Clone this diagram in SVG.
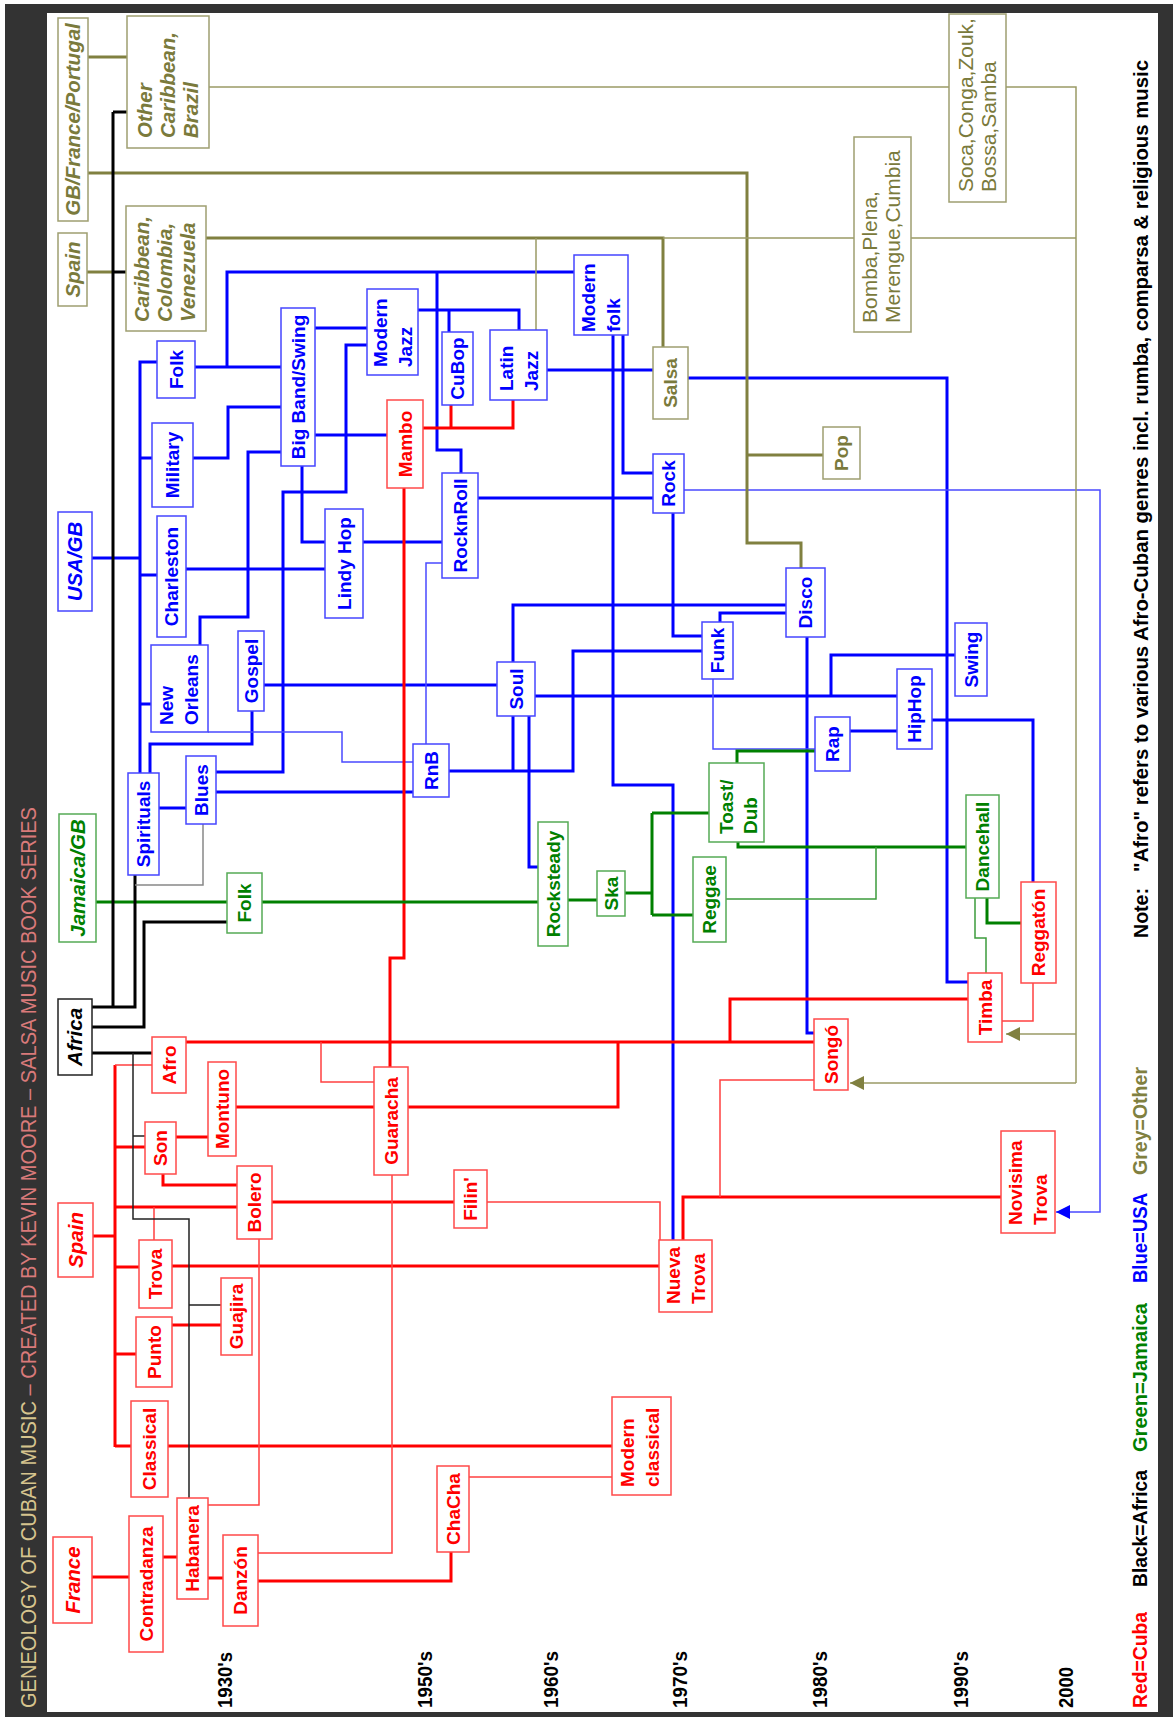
<svg xmlns="http://www.w3.org/2000/svg" width="1173" height="1717" viewBox="0 0 1173 1717">
<defs>
<marker id="ao" markerUnits="userSpaceOnUse" markerWidth="14" markerHeight="14" refX="14" refY="7" orient="auto" viewBox="0 0 14 14"><path d="M0,0L14,7L0,14z" fill="#808040"/></marker>
<marker id="ab" markerUnits="userSpaceOnUse" markerWidth="14" markerHeight="14" refX="14" refY="7" orient="auto" viewBox="0 0 14 14"><path d="M0,0L14,7L0,14z" fill="#0000ff"/></marker>
</defs>
<style>
text{font-family:"Liberation Sans",Arial,sans-serif;font-weight:bold;font-size:19px;text-anchor:middle}
.it{font-style:italic;font-size:20.5px}
.ml{text-anchor:start}
.rg{font-weight:normal;font-size:21px}
.node rect{fill:#fff;stroke-width:1.5}
.nr text{fill:#f00}.nr rect{stroke:#ff4a4a}
.nb text{fill:#0000ff}.nb rect{stroke:#4646ff}
.ng text{fill:#008000}.ng rect{stroke:#55aa55}
.no text{fill:#7a7a3c}.no rect{stroke:#9e9e70}
.nk text{fill:#000}.nk rect{stroke:#222}
#connectors path{fill:none}
.bt{stroke:#0000ff;stroke-width:3}
.bn{stroke:#4a4aff;stroke-width:1.5}
.rt{stroke:#ff0000;stroke-width:3}
.rn{stroke:#ff4040;stroke-width:1.5}
.gt{stroke:#008000;stroke-width:3}
.gn{stroke:#3c9c3c;stroke-width:1.5}
.ot{stroke:#808040;stroke-width:3}
.on{stroke:#9a9a66;stroke-width:1.5}
.kt{stroke:#000;stroke-width:3}
.kn{stroke:#222;stroke-width:1.5}
.gr{stroke:#888;stroke-width:1.5}
.yr{fill:#000;font-size:20px;text-anchor:start}
.lg{font-size:20px;text-anchor:start}
</style>
<rect x="0" y="0" width="1173" height="1717" fill="#fff"/>
<rect x="5" y="4" width="1168" height="1713" fill="#333"/>
<rect x="47" y="13" width="1111" height="1699" fill="#fff"/>
<text transform="translate(36,1708) rotate(-90)" style="font-weight:normal;font-size:22px;text-anchor:start" textLength="901" lengthAdjust="spacingAndGlyphs"><tspan fill="#d6c48e">GENEOLOGY OF CUBAN MUSIC</tspan><tspan fill="#d97a7a"> – CREATED BY KEVIN MOORE – SALSA MUSIC BOOK SERIES</tspan></text>

<g id="connectors">
<path class="bt" d="M157,362H140V773M92,558H140M140,458H152M140,575H157M140,704H151M195,367H281M227,367V272H574M437,272V450H461V473M193,458H228V407H281M315,328H367M367,345H346V492H283V772H216M315,435H387M302,466V542H325M186,569H325M200,645V617H248V452H281M264,685H497M150,773V744H252V711M216,792H413M159,808H186M363,542H442M478,498H653M623,335V473H653M613,335V785H673V1240M673,513V636H702M449,771H573V651H702M513,716V771M529,716V867H538M513,662V605H786M720,622V613H786M535,696H897M831,696V655H955M850,731H897M932,720H1033V882M807,637V1033H814M688,378H947V982H968M547,370H653M418,310H519V330M449,310V332"/>
<path class="bn" d="M208,732H342V762H413M426,744V563H442M713,679V749H815"/>
<path class="bn" d="M684,490H1100V1212H1056" marker-end="url(#ab)"/>
<path class="rt" d="M423,428H513V400M451,405V428M404,488V958H390V1067M186,1042H814M408,1107H618V1042M730,1042V999H968M93,1236H115M115,1065V1447M115,1147H145M115,1207H237M115,1267H139M115,1354H136M115,1446H131M176,1137H208M236,1107H374M163,1174V1185H237M172,1266H659M272,1202H454M683,1240V1197H1001M172,1325H221M168,1446H612M258,1581H451V1552M92,1577H129M163,1557H177M208,1578H223"/>
<path class="rn" d="M115,1065H152M321,1042V1082H374M154,1207V1240M487,1202H660V1240M720,1197V1080H814M1033,983V1021H1002M208,1505H259V1239M469,1477H612M258,1553H392V1175"/>
<path class="gt" d="M96,902H227M262,902H538M568,900H597M625,893H652M652,813V915M652,813H709M652,915H693M737,763V751H815M738,842V847H966M987,898V923H1021"/>
<path class="gn" d="M726,899H876V847M975,898V938H986V973"/>
<path class="ot" d="M88,57H127M87,272H113M88,173H747V543H801V568M747,455H823M206,238H663V347"/>
<path class="on" d="M209,87H949M1006,87H1076V1083M663,238H854M911,238H1076M536,238V330"/>
<path class="on" d="M1076,1034H1006" marker-end="url(#ao)"/>
<path class="on" d="M1076,1083H850" marker-end="url(#ao)"/>
<path class="kt" d="M113,112V1007M113,112H127M113,272H126M92,1007H135V875M92,1027H144V922H227M92,1053H152"/>
<path class="kn" d="M133,1053V1219H189V1498M133,1136H145M189,1305H221"/>
<path class="gr" d="M203,824V885H135"/>
</g>

<g id="nodes">
<!-- Olive / other -->
<g id="n-gbfp" class="node no"><rect x="58" y="18" width="30" height="203"/><text class="it" transform="translate(73,119.5) rotate(-90)" y="7.4">GB/France/Portugal</text></g>
<g id="n-spain-o" class="node no"><rect x="58" y="233" width="29" height="73"/><text class="it" transform="translate(72.5,269.5) rotate(-90)" y="7.4">Spain</text></g>
<g id="n-othercarib" class="node no"><rect x="127" y="16" width="82" height="132"/><text class="it ml" transform="translate(168,138) rotate(-90)"><tspan x="0" y="-16.5">Other</tspan><tspan x="0" y="6.5">Caribbean,</tspan><tspan x="0" y="29.5">Brazil</tspan></text></g>
<g id="n-caribcol" class="node no"><rect x="126" y="206" width="80" height="125"/><text class="it ml" transform="translate(166,322) rotate(-90)"><tspan x="0" y="-17.5">Caribbean,</tspan><tspan x="0" y="5.5">Colombia,</tspan><tspan x="0" y="28.5">Venezuela</tspan></text></g>
<g id="n-bomba" class="node no"><rect x="854" y="137" width="57" height="195"/><text class="rg ml" transform="translate(882.5,323) rotate(-90)"><tspan x="0" y="-6">Bomba,Plena,</tspan><tspan x="0" y="17">Merengue,Cumbia</tspan></text></g>
<g id="n-soca" class="node no"><rect x="949" y="14" width="57" height="188"/><text class="rg ml" transform="translate(977.5,192) rotate(-90)"><tspan x="0" y="-5">Soca,Conga,Zouk,</tspan><tspan x="0" y="18">Bossa,Samba</tspan></text></g>
<g id="n-salsa" class="node no"><rect x="653" y="347" width="35" height="72"/><text transform="translate(670.5,383) rotate(-90)" y="6.8">Salsa</text></g>
<g id="n-pop" class="node no"><rect x="823" y="427" width="37" height="52"/><text transform="translate(841.5,453) rotate(-90)" y="6.8">Pop</text></g>

<!-- Blue / USA -->
<g id="n-usagb" class="node nb"><rect x="58" y="512" width="34" height="99"/><text class="it" transform="translate(75,561.5) rotate(-90)" y="7.4">USA/GB</text></g>
<g id="n-folk-usa" class="node nb"><rect x="157" y="341" width="38" height="57"/><text transform="translate(176,369.5) rotate(-90)" y="6.8">Folk</text></g>
<g id="n-military" class="node nb"><rect x="152" y="423" width="41" height="84"/><text transform="translate(172.5,465) rotate(-90)" y="6.8">Military</text></g>
<g id="n-bigband" class="node nb"><rect x="281" y="308" width="34" height="158"/><text transform="translate(298,387) rotate(-90)" y="6.8">Big Band/Swing</text></g>
<g id="n-modernjazz" class="node nb"><rect x="367" y="289" width="51" height="86"/><text class="ml" transform="translate(392.5,367) rotate(-90)"><tspan x="0" y="-6">Modern</tspan><tspan x="0" y="19">Jazz</tspan></text></g>
<g id="n-cubop" class="node nb"><rect x="442" y="332" width="31" height="73"/><text transform="translate(457.5,368.5) rotate(-90)" y="6.8">CuBop</text></g>
<g id="n-latinjazz" class="node nb"><rect x="490" y="330" width="57" height="70"/><text class="ml" transform="translate(518.5,391) rotate(-90)"><tspan x="0" y="-6">Latin</tspan><tspan x="0" y="19">Jazz</tspan></text></g>
<g id="n-modernfolk" class="node nb"><rect x="574" y="255" width="54" height="80"/><text class="ml" transform="translate(601,332) rotate(-90)"><tspan x="0" y="-6">Modern</tspan><tspan x="0" y="19">folk</tspan></text></g>
<g id="n-charleston" class="node nb"><rect x="157" y="516" width="29" height="121"/><text transform="translate(171.5,576.5) rotate(-90)" y="6.8">Charleston</text></g>
<g id="n-lindyhop" class="node nb"><rect x="325" y="509" width="38" height="109"/><text transform="translate(344,563.5) rotate(-90)" y="6.8">Lindy Hop</text></g>
<g id="n-neworleans" class="node nb"><rect x="151" y="645" width="57" height="87"/><text class="ml" transform="translate(179.5,725) rotate(-90)"><tspan x="0" y="-7">New</tspan><tspan x="0" y="18">Orleans</tspan></text></g>
<g id="n-gospel" class="node nb"><rect x="238" y="631" width="26" height="80"/><text transform="translate(251,671) rotate(-90)" y="6.8">Gospel</text></g>
<g id="n-spirituals" class="node nb"><rect x="128" y="773" width="31" height="102"/><text transform="translate(143.5,824) rotate(-90)" y="6.8">Spirituals</text></g>
<g id="n-blues" class="node nb"><rect x="186" y="756" width="30" height="68"/><text transform="translate(201,790) rotate(-90)" y="6.8">Blues</text></g>
<g id="n-rnb" class="node nb"><rect x="413" y="744" width="36" height="53"/><text transform="translate(431,770.5) rotate(-90)" y="6.8">RnB</text></g>
<g id="n-rocknroll" class="node nb"><rect x="442" y="473" width="36" height="105"/><text transform="translate(460,525.5) rotate(-90)" y="6.8">RocknRoll</text></g>
<g id="n-soul" class="node nb"><rect x="497" y="662" width="38" height="54"/><text transform="translate(516,689) rotate(-90)" y="6.8">Soul</text></g>
<g id="n-rock" class="node nb"><rect x="653" y="454" width="31" height="59"/><text transform="translate(668.5,483.5) rotate(-90)" y="6.8">Rock</text></g>
<g id="n-funk" class="node nb"><rect x="702" y="622" width="31" height="57"/><text transform="translate(717.5,650.5) rotate(-90)" y="6.8">Funk</text></g>
<g id="n-disco" class="node nb"><rect x="786" y="568" width="39" height="69"/><text transform="translate(805.5,602.5) rotate(-90)" y="6.8">Disco</text></g>
<g id="n-swing" class="node nb"><rect x="955" y="623" width="32" height="73"/><text transform="translate(971,659.5) rotate(-90)" y="6.8">Swing</text></g>
<g id="n-hiphop" class="node nb"><rect x="897" y="669" width="35" height="80"/><text transform="translate(914.5,709) rotate(-90)" y="6.8">HipHop</text></g>
<g id="n-rap" class="node nb"><rect x="815" y="717" width="35" height="54"/><text transform="translate(832.5,744) rotate(-90)" y="6.8">Rap</text></g>

<!-- Green / Jamaica -->
<g id="n-jamaicagb" class="node ng"><rect x="59" y="814" width="37" height="128"/><text class="it" transform="translate(77.5,878) rotate(-90)" y="7.4">Jamaica/GB</text></g>
<g id="n-folk-jam" class="node ng"><rect x="227" y="873" width="35" height="60"/><text transform="translate(244.5,903) rotate(-90)" y="6.8">Folk</text></g>
<g id="n-rocksteady" class="node ng"><rect x="538" y="822" width="30" height="124"/><text transform="translate(553,884) rotate(-90)" y="6.8">Rocksteady</text></g>
<g id="n-ska" class="node ng"><rect x="597" y="871" width="28" height="45"/><text transform="translate(611,893.5) rotate(-90)" y="6.8">Ska</text></g>
<g id="n-reggae" class="node ng"><rect x="693" y="857" width="33" height="85"/><text transform="translate(709.5,899.5) rotate(-90)" y="6.8">Reggae</text></g>
<g id="n-toastdub" class="node ng"><rect x="709" y="763" width="55" height="79"/><text class="ml" transform="translate(736.5,834) rotate(-90)"><tspan x="0" y="-4">Toast/</tspan><tspan x="0" y="20">Dub</tspan></text></g>
<g id="n-dancehall" class="node ng"><rect x="966" y="795" width="33" height="103"/><text transform="translate(982.5,846.5) rotate(-90)" y="6.8">Dancehall</text></g>

<!-- Black / Africa -->
<g id="n-africa" class="node nk"><rect x="58" y="999" width="34" height="76"/><text class="it" transform="translate(75,1037) rotate(-90)" y="7.4">Africa</text></g>

<!-- Red / Cuba -->
<g id="n-spain-r" class="node nr"><rect x="58" y="1203" width="35" height="74"/><text class="it" transform="translate(75.5,1240) rotate(-90)" y="7.4">Spain</text></g>
<g id="n-france" class="node nr"><rect x="53" y="1537" width="39" height="86"/><text class="it" transform="translate(72.5,1580) rotate(-90)" y="7.4">France</text></g>
<g id="n-mambo" class="node nr"><rect x="387" y="400" width="36" height="88"/><text transform="translate(405,444) rotate(-90)" y="6.8">Mambo</text></g>
<g id="n-guaracha" class="node nr"><rect x="374" y="1067" width="34" height="108"/><text transform="translate(391,1121) rotate(-90)" y="6.8">Guaracha</text></g>
<g id="n-afro" class="node nr"><rect x="152" y="1037" width="34" height="56"/><text transform="translate(169,1065) rotate(-90)" y="6.8">Afro</text></g>
<g id="n-son" class="node nr"><rect x="145" y="1122" width="31" height="52"/><text transform="translate(160.5,1148) rotate(-90)" y="6.8">Son</text></g>
<g id="n-montuno" class="node nr"><rect x="208" y="1062" width="28" height="94"/><text transform="translate(222,1109) rotate(-90)" y="6.8">Montuno</text></g>
<g id="n-bolero" class="node nr"><rect x="237" y="1166" width="35" height="73"/><text transform="translate(254.5,1202.5) rotate(-90)" y="6.8">Bolero</text></g>
<g id="n-filin" class="node nr"><rect x="454" y="1170" width="33" height="58"/><text transform="translate(470.5,1199) rotate(-90)" y="6.8">Filin'</text></g>
<g id="n-trova" class="node nr"><rect x="139" y="1240" width="33" height="68"/><text transform="translate(155.5,1274) rotate(-90)" y="6.8">Trova</text></g>
<g id="n-guajira" class="node nr"><rect x="221" y="1278" width="31" height="77"/><text transform="translate(236.5,1316.5) rotate(-90)" y="6.8">Guajira</text></g>
<g id="n-punto" class="node nr"><rect x="136" y="1317" width="36" height="70"/><text transform="translate(154,1352) rotate(-90)" y="6.8">Punto</text></g>
<g id="n-classical" class="node nr"><rect x="131" y="1401" width="37" height="96"/><text transform="translate(149.5,1449) rotate(-90)" y="6.8">Classical</text></g>
<g id="n-contradanza" class="node nr"><rect x="129" y="1516" width="34" height="136"/><text transform="translate(146,1584) rotate(-90)" y="6.8">Contradanza</text></g>
<g id="n-habanera" class="node nr"><rect x="177" y="1498" width="31" height="101"/><text transform="translate(192.5,1548.5) rotate(-90)" y="6.8">Habanera</text></g>
<g id="n-danzon" class="node nr"><rect x="223" y="1535" width="35" height="91"/><text transform="translate(240.5,1580.5) rotate(-90)" y="6.8">Danzón</text></g>
<g id="n-chacha" class="node nr"><rect x="437" y="1466" width="32" height="86"/><text transform="translate(453,1509) rotate(-90)" y="6.8">ChaCha</text></g>
<g id="n-modernclassical" class="node nr"><rect x="612" y="1397" width="59" height="98"/><text class="ml" transform="translate(641.5,1487) rotate(-90)"><tspan x="0" y="-8">Modern</tspan><tspan x="0" y="17">classical</tspan></text></g>
<g id="n-nuevatrova" class="node nr"><rect x="659" y="1240" width="53" height="72"/><text class="ml" transform="translate(685.5,1304) rotate(-90)"><tspan x="0" y="-6">Nueva</tspan><tspan x="0" y="19">Trova</tspan></text></g>
<g id="n-novisima" class="node nr"><rect x="1001" y="1131" width="54" height="102"/><text class="ml" transform="translate(1028,1225) rotate(-90)"><tspan x="0" y="-6">Novisima</tspan><tspan x="0" y="19">Trova</tspan></text></g>
<g id="n-songo" class="node nr"><rect x="814" y="1019" width="34" height="71"/><text transform="translate(831,1054.5) rotate(-90)" y="6.8">Songó</text></g>
<g id="n-timba" class="node nr"><rect x="968" y="973" width="34" height="69"/><text transform="translate(985,1007.5) rotate(-90)" y="6.8">Timba</text></g>
<g id="n-reggaeton" class="node nr"><rect x="1021" y="882" width="35" height="101"/><text transform="translate(1038.5,932.5) rotate(-90)" y="6.8">Reggatón</text></g>
</g>

<g id="timeline">
<text class="yr" transform="translate(232,1708) rotate(-90)" textLength="56" lengthAdjust="spacingAndGlyphs">1930's</text>
<text class="yr" transform="translate(432,1708) rotate(-90)" textLength="57" lengthAdjust="spacingAndGlyphs">1950's</text>
<text class="yr" transform="translate(558,1708) rotate(-90)" textLength="57" lengthAdjust="spacingAndGlyphs">1960's</text>
<text class="yr" transform="translate(687,1708) rotate(-90)" textLength="57" lengthAdjust="spacingAndGlyphs">1970's</text>
<text class="yr" transform="translate(827,1708) rotate(-90)" textLength="57" lengthAdjust="spacingAndGlyphs">1980's</text>
<text class="yr" transform="translate(968,1708) rotate(-90)" textLength="57" lengthAdjust="spacingAndGlyphs">1990's</text>
<text class="yr" transform="translate(1073,1708) rotate(-90)" textLength="41" lengthAdjust="spacingAndGlyphs">2000</text>
</g>

<g id="legend">
<text class="lg" fill="#ff0000" transform="translate(1147,1708) rotate(-90)" textLength="96" lengthAdjust="spacingAndGlyphs">Red=Cuba</text>
<text class="lg" fill="#000" transform="translate(1147,1587) rotate(-90)" textLength="117" lengthAdjust="spacingAndGlyphs">Black=Africa</text>
<text class="lg" fill="#008000" transform="translate(1147,1452) rotate(-90)" textLength="149" lengthAdjust="spacingAndGlyphs">Green=Jamaica</text>
<text class="lg" fill="#0000ff" transform="translate(1147,1283) rotate(-90)" textLength="90" lengthAdjust="spacingAndGlyphs">Blue=USA</text>
<text class="lg" fill="#808040" transform="translate(1147,1175) rotate(-90)" textLength="108" lengthAdjust="spacingAndGlyphs">Grey=Other</text>
<text class="lg" fill="#000" transform="translate(1148,938) rotate(-90)" textLength="50" lengthAdjust="spacingAndGlyphs">Note:</text>
<text class="lg" fill="#000" transform="translate(1148,872) rotate(-90)" textLength="812" lengthAdjust="spacingAndGlyphs">"Afro" refers to various Afro-Cuban genres incl. rumba, comparsa &amp; religious music</text>
</g>
</svg>
